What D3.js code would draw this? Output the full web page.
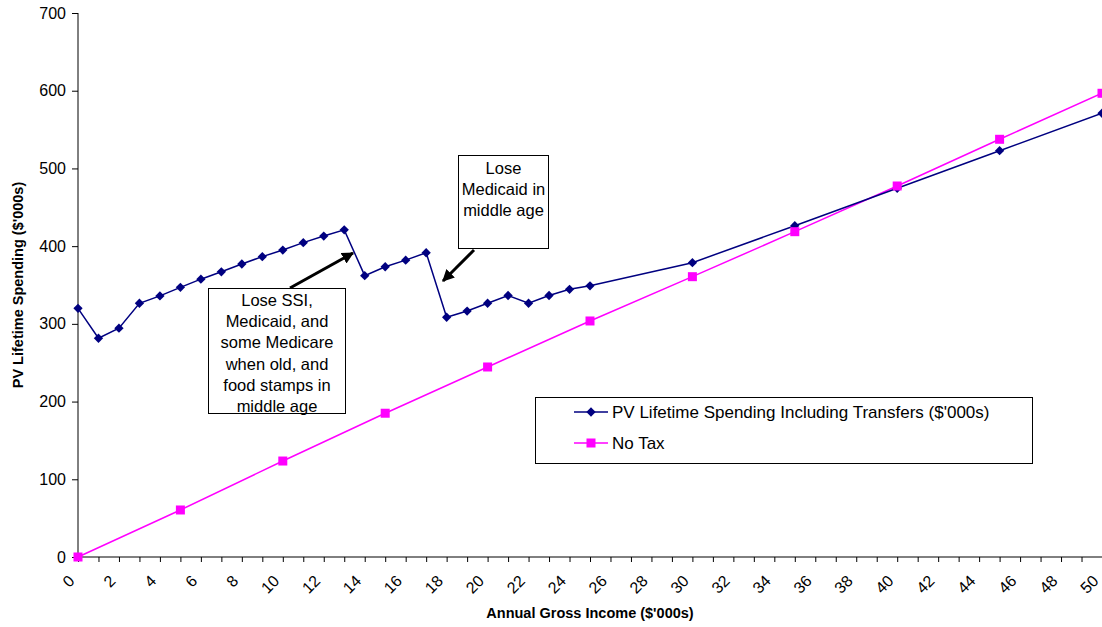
<!DOCTYPE html>
<html><head><meta charset="utf-8">
<script src="https://cdn.jsdelivr.net/npm/d3@7"></script>
<style>body{margin:0;background:#fff}svg{display:block;font-family:Arial,"Liberation Sans",sans-serif}</style>
</head><body><svg id="c" width="1102" height="627"></svg>
<script>
const spendIncome = [0,1,2,3,4,5,6,7,8,9,10,11,12,13,14,15,16,17,18,19,20,21,22,23,24,25,30,35,40,45,50];
const spendValues = [320,281.5,294.5,326.5,336,347,357.5,367,377,386.5,395,404.5,413,421,362,373.5,382,391.5,308.5,316.5,326.5,336.5,326.5,336.5,344.5,349,378.7,426.3,474.4,522.8,571];
const noTaxIncome = [0,5,10,15,20,25,30,35,40,45,50];
const noTaxValues = [0,60.5,123.5,185,244.5,303.7,360.7,418.6,477.4,537.5,596.7];
const yTicks = [0,100,200,300,400,500,600,700];
const xTickLabels = d3.range(0,51,2);
const seriesNames = ["PV Lifetime Spending Including Transfers ($'000s)","No Tax"];
const note1 = ["Lose SSI,","Medicaid, and","some Medicare","when old, and","food stamps in","middle age"];
const note2 = ["Lose","Medicaid in","middle age"];

const FONT = "Arial, Liberation Sans, sans-serif";
const svg = d3.select("#c");
const x = d3.scaleLinear().domain([0,50]).range([78,1102]);
const y = d3.scaleLinear().domain([0,700]).range([557,13]);
const BLUE = "#000080", PINK = "#FF00FF";

// Y axis
const ya = svg.append("g").attr("transform","translate(78,0)")
  .call(d3.axisLeft(y).tickValues(yTicks).tickSize(6).tickPadding(6));
ya.select(".domain").attr("stroke","#000").attr("d","M0,13V557");
ya.selectAll("text").attr("font-size",16).attr("font-family",FONT).attr("fill","#000");

// X axis
const xa = svg.append("g").attr("transform","translate(0,557)")
  .call(d3.axisBottom(x).tickValues(d3.range(0,51,1)).tickSize(5)
    .tickFormat(d => xTickLabels.includes(d) ? d : ""));
xa.select(".domain").attr("stroke","#000").attr("d","M78,0H1102");
xa.selectAll("text").attr("font-size",16).attr("font-family",FONT).attr("fill","#000")
  .attr("text-anchor","end").attr("dy","0.35em").attr("dx",0).attr("y",0).attr("x",0)
  .attr("transform","translate(-7,21) rotate(-45)");

// Axis titles
svg.append("text").attr("x",590).attr("y",618).attr("text-anchor","middle")
  .attr("font-size",14.5).attr("font-weight","bold").text("Annual Gross Income ($'000s)");
svg.append("text").attr("transform","translate(23,285) rotate(-90)").attr("text-anchor","middle")
  .attr("font-size",14.5).attr("font-weight","bold").text("PV Lifetime Spending ($'000s)");

// Lines
const blueData = spendIncome.map((d,i)=>[d,spendValues[i]]);
const pinkData = noTaxIncome.map((d,i)=>[d,noTaxValues[i]]);
const line = d3.line().x(d=>x(d[0])).y(d=>y(d[1]));
svg.append("path").datum(pinkData).attr("d",line).attr("fill","none").attr("stroke",PINK).attr("stroke-width",1.5);
svg.append("path").datum(blueData).attr("d",line).attr("fill","none").attr("stroke",BLUE).attr("stroke-width",1.5);

const diamond = d3.symbol().type(d3.symbolDiamond2).size(55);
svg.append("g").selectAll("path").data(blueData).join("path")
  .attr("d",diamond).attr("transform",d=>`translate(${x(d[0])},${y(d[1])})`).attr("fill",BLUE);
svg.append("g").selectAll("rect").data(pinkData).join("rect")
  .attr("x",d=>x(d[0])-4.5).attr("y",d=>y(d[1])-4.5).attr("width",9).attr("height",9).attr("fill",PINK);

// Arrows
const defs = svg.append("defs");
defs.append("marker").attr("id","ah").attr("viewBox","0 0 10 10").attr("refX",9).attr("refY",5)
  .attr("markerWidth",4).attr("markerHeight",4).attr("orient","auto")
  .append("path").attr("d","M0,0L10,5L0,10z").attr("fill","#000");
svg.append("line").attr("x1",290).attr("y1",288).attr("x2",353).attr("y2",253)
  .attr("stroke","#000").attr("stroke-width",3).attr("marker-end","url(#ah)");
svg.append("line").attr("x1",474).attr("y1",250).attr("x2",443).attr("y2",281)
  .attr("stroke","#000").attr("stroke-width",3).attr("marker-end","url(#ah)");

// Notes
function note(x0,y0,w,h,lines,ty){
  svg.append("rect").attr("x",x0).attr("y",y0).attr("width",w).attr("height",h)
    .attr("fill","#fff").attr("stroke","#000").attr("stroke-width",1);
  svg.append("g").selectAll("text").data(lines).join("text")
    .attr("x",x0+w/2).attr("y",(d,i)=>ty+i*21.2).attr("text-anchor","middle")
    .attr("font-size",16.5).text(d=>d);
}
note(208.5,288.5,137,125,note1,306);
note(458.5,155.5,90,93,note2,174);

// Legend
const lg = svg.append("g");
lg.append("rect").attr("x",535.5).attr("y",397.5).attr("width",497).attr("height",66)
  .attr("fill","#fff").attr("stroke","#000").attr("stroke-width",1);
const ly = [412,443];
lg.append("line").attr("x1",574).attr("x2",608).attr("y1",ly[0]).attr("y2",ly[0]).attr("stroke",BLUE).attr("stroke-width",1.5);
lg.append("path").attr("d",diamond).attr("transform",`translate(591,${ly[0]})`).attr("fill",BLUE);
lg.append("line").attr("x1",574).attr("x2",608).attr("y1",ly[1]).attr("y2",ly[1]).attr("stroke",PINK).attr("stroke-width",1.5);
lg.append("rect").attr("x",586.5).attr("y",ly[1]-4.5).attr("width",9).attr("height",9).attr("fill",PINK);
lg.selectAll("text.l").data(seriesNames).join("text").attr("class","l")
  .attr("x",612).attr("y",(d,i)=>ly[i]+6).attr("font-size",17).text(d=>d);
</script></body></html>
